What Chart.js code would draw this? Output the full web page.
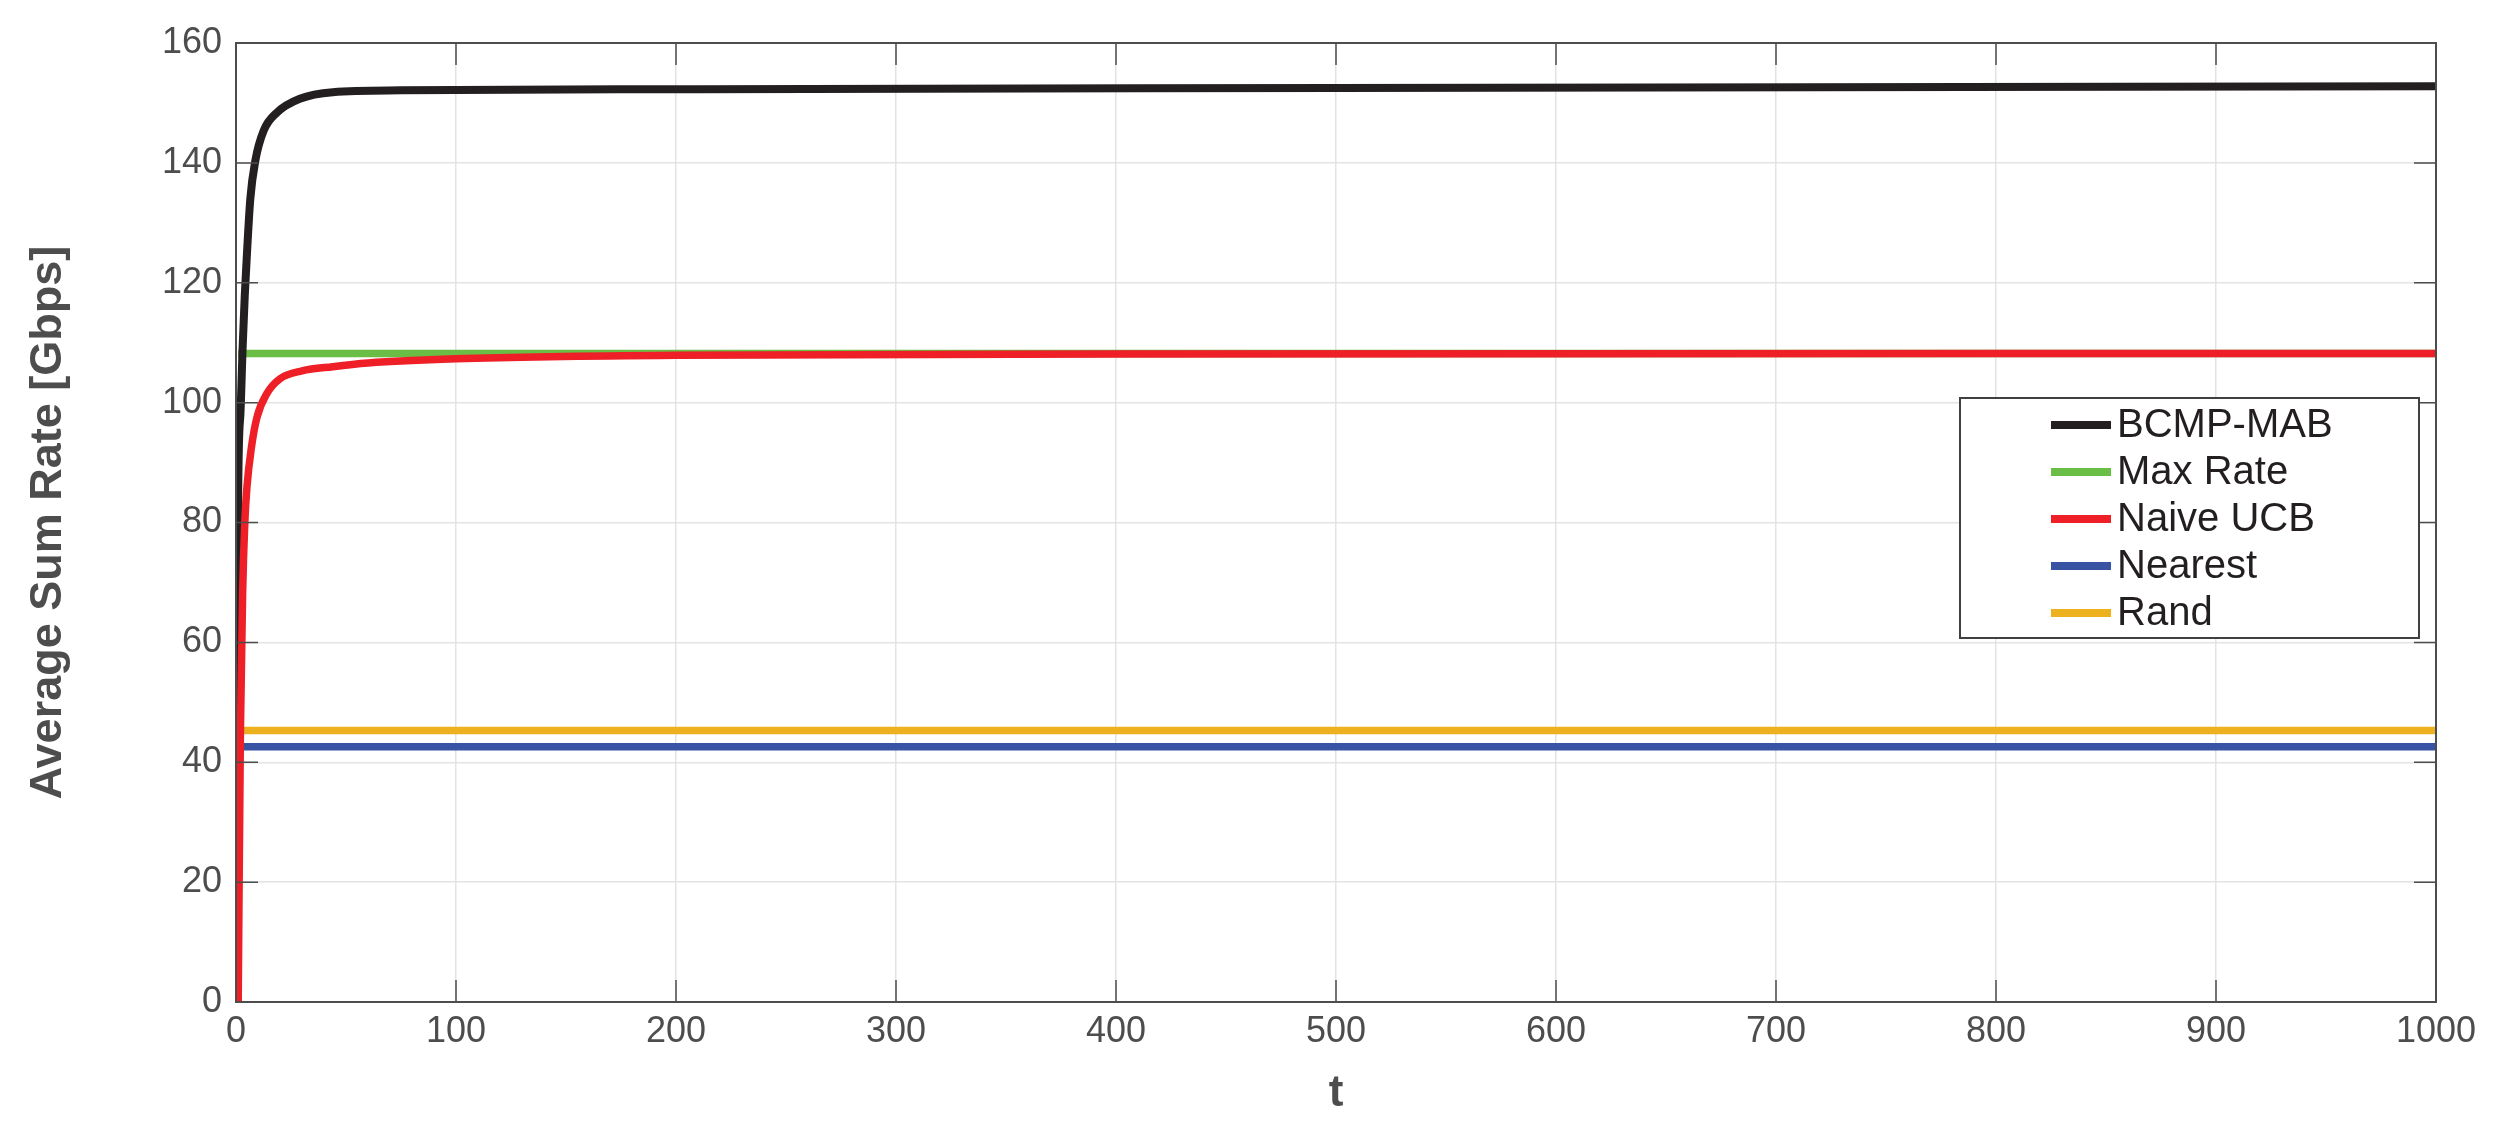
<!DOCTYPE html>
<html lang="en">
<head>
  <meta charset="UTF-8">
  <title>Average Sum Rate</title>
  <style>
    body {
      margin: 0;
      background: #ffffff;
    }
    #wrap {
      width: 2505px;
      height: 1135px;
    }
  </style>
</head>
<body>

  <div id="wrap">
    <canvas id="myChart" width="2505" height="1135"></canvas>
  </div>

  <script src="https://cdn.jsdelivr.net/npm/chart.js"></script>
  <script>
    // Datos
    var seriesNames = ['BCMP-MAB', 'Max Rate', 'Naive UCB', 'Nearest', 'Rand'];
    var seriesColors = ['#231f20', '#6abd45', '#ee1f26', '#3953a4', '#edb120'];

    var tBCMP    = [0.3, 0.5, 1, 2, 3, 4, 5, 6.5, 8.8, 12.6, 18.6, 29, 44, 75, 211, 500, 1000];
    var rateBCMP = [5, 30, 85, 98, 109, 118, 125, 134, 140.4, 145.4, 148.4, 150.7, 151.8, 152.1, 152.3, 152.5, 152.8];

    var tUCB    = [1, 2, 3, 4, 5, 7, 9.5, 14, 20, 30, 44, 60, 100, 200, 400, 1000];
    var rateUCB = [0, 45, 68, 80, 86, 92.5, 97.5, 101.5, 104, 105.3, 106, 106.6, 107.3, 107.9, 108.1, 108.2];

    var tFlat       = [1, 1000];
    var rateMax     = [108.2, 108.2];
    var rateNearest = [42.6, 42.6];
    var rateRand    = [45.3, 45.3];

    var xTicks = [0, 100, 200, 300, 400, 500, 600, 700, 800, 900, 1000];
    var yTicks = [0, 20, 40, 60, 80, 100, 120, 140, 160];

    function toPoints(xs, ys) {
      return xs.map(function (x, i) { return { x: x, y: ys[i] }; });
    }

    // orden de dibujo: el rojo encima de todo
    var seriesData = [
      toPoints(tBCMP, rateBCMP),
      toPoints(tFlat, rateMax),
      toPoints(tUCB, rateUCB),
      toPoints(tFlat, rateNearest),
      toPoints(tFlat, rateRand)
    ];
    var drawOrder = [1, 4, 0, 3, 2];

    var FONT = 'Arial, "Liberation Sans", sans-serif';
    var TICK_LEN = 22;

    var framePlugin = {
      id: 'frame',
      afterDatasetsDraw: function (chart) {
        var ctx = chart.ctx;
        var a = chart.chartArea;
        var x = chart.scales.x;
        var y = chart.scales.y;
        ctx.save();
        ctx.strokeStyle = '#4d4d4d';
        ctx.lineWidth = 1.5;
        ctx.beginPath();
        xTicks.forEach(function (v) {
          var px = x.getPixelForValue(v);
          ctx.moveTo(px, a.bottom); ctx.lineTo(px, a.bottom - TICK_LEN);
          ctx.moveTo(px, a.top); ctx.lineTo(px, a.top + TICK_LEN);
        });
        yTicks.forEach(function (v) {
          var py = y.getPixelForValue(v);
          ctx.moveTo(a.left, py); ctx.lineTo(a.left + TICK_LEN, py);
          ctx.moveTo(a.right, py); ctx.lineTo(a.right - TICK_LEN, py);
        });
        ctx.stroke();
        ctx.lineWidth = 2;
        ctx.strokeRect(a.left, a.top, a.right - a.left, a.bottom - a.top);

        // leyenda dentro del area
        var boxW = 459, boxH = 240;
        var bx = a.right - 17 - boxW;
        var by = a.top + 355;
        ctx.fillStyle = '#ffffff';
        ctx.fillRect(bx, by, boxW, boxH);
        ctx.strokeStyle = '#404040';
        ctx.lineWidth = 2;
        ctx.strokeRect(bx, by, boxW, boxH);
        ctx.font = '40px ' + FONT;
        ctx.textBaseline = 'middle';
        ctx.textAlign = 'left';
        chart.data.datasets.forEach(function (ds, i) {
          var rowY = by + 27 + i * 47;
          ctx.strokeStyle = ds.borderColor;
          ctx.lineWidth = 8;
          ctx.beginPath();
          ctx.moveTo(bx + 91, rowY);
          ctx.lineTo(bx + 151, rowY);
          ctx.stroke();
          ctx.fillStyle = '#231f20';
          ctx.fillText(ds.label, bx + 157, rowY + 1);
        });
        ctx.restore();
      }
    };

    var ctx = document.getElementById('myChart').getContext('2d');
    var myChart = new Chart(ctx, {
      type: 'line',
      data: {
        datasets: seriesNames.map(function (name, i) {
          return {
            label: name,
            data: seriesData[i],
            borderColor: seriesColors[i],
            backgroundColor: seriesColors[i],
            borderWidth: i === 0 ? 8 : 7.5,
            pointRadius: 0,
            fill: false,
            cubicInterpolationMode: 'monotone',
            order: drawOrder[i]
          };
        })
      },
      options: {
        responsive: false,
        animation: false,
        devicePixelRatio: 1,
        layout: {
          padding: { top: 43, right: 69, left: 0, bottom: 0 }
        },
        plugins: {
          legend: { display: false },
          tooltip: { enabled: false }
        },
        scales: {
          x: {
            type: 'linear',
            min: 0,
            max: 1000,
            afterBuildTicks: function (scale) {
              scale.ticks = xTicks.map(function (v) { return { value: v }; });
            },
            afterFit: function (scale) { scale.height = 133; },
            grid: { color: '#e3e3e3', lineWidth: 1.5, drawTicks: false },
            border: { display: false },
            ticks: {
              padding: 8,
              color: '#4d4d4d',
              font: { family: FONT, size: 36 },
              maxRotation: 0,
              callback: function (v) { return String(v); }
            },
            title: {
              display: true,
              text: 't',
              color: '#4d4d4d',
              font: { family: FONT, size: 44, weight: 'bold', lineHeight: 1 },
              padding: { top: 0, bottom: 19 }
            }
          },
          y: {
            min: 0,
            max: 160,
            afterBuildTicks: function (scale) {
              scale.ticks = yTicks.map(function (v) { return { value: v }; });
            },
            afterFit: function (scale) { scale.width = 236; },
            grid: { color: '#e3e3e3', lineWidth: 1.5, drawTicks: false },
            border: { display: false },
            ticks: {
              padding: 14,
              color: '#4d4d4d',
              font: { family: FONT, size: 36 },
              callback: function (v) { return String(v); }
            },
            title: {
              display: true,
              text: 'Average Sum Rate [Gbps]',
              color: '#4d4d4d',
              font: { family: FONT, size: 45, weight: 'bold', lineHeight: 1 },
              padding: { top: 26, bottom: 0 }
            }
          }
        }
      },
      plugins: [framePlugin]
    });
  </script>

</body>
</html>
